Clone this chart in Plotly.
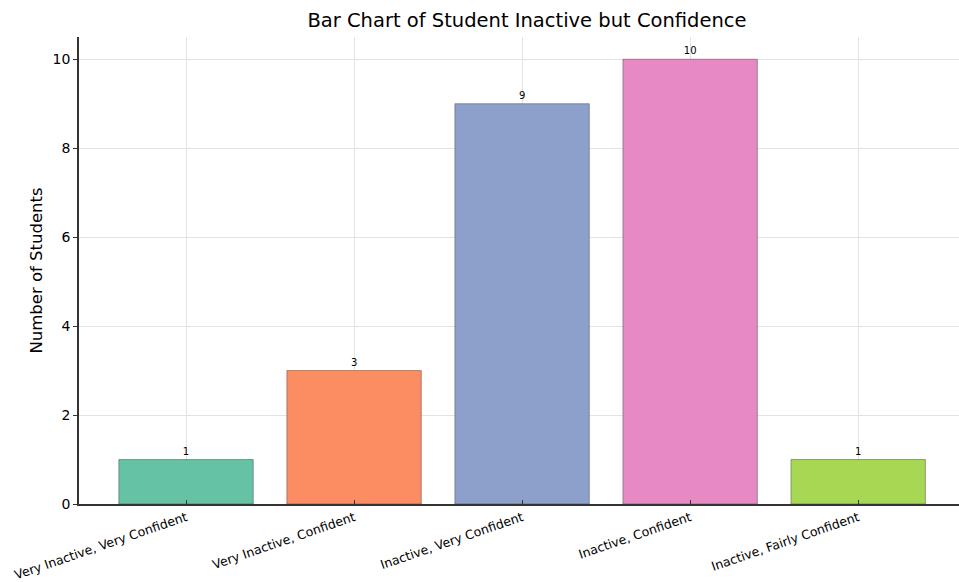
import plotly.graph_objects as go

categories = ["Very Inactive, Very Confident", "Very Inactive, Confident",
              "Inactive, Very Confident", "Inactive, Confident",
              "Inactive, Fairly Confident"]
counts = [1, 3, 9, 10, 1]
colors = ["#66c2a5", "#fc8d62", "#8da0cb", "#e78ac3", "#a6d854"]
y_ticks = [0, 2, 4, 6, 8, 10]

font = "DejaVu Sans"

fig = go.Figure(go.Bar(
    x=list(range(len(categories))), y=counts,
    width=0.8,
    marker=dict(color=colors, line=dict(color="rgba(60,60,60,0.45)", width=1)),
    text=[str(c) for c in counts], textposition="outside",
    textfont=dict(family=font, size=10, color="black"),
    cliponaxis=False,
))

fig.update_layout(
    width=959, height=582,
    margin=dict(l=79, r=0, t=37, b=78),
    plot_bgcolor="white", paper_bgcolor="white",
    showlegend=False,
    title=dict(text="Bar Chart of Student Inactive but Confidence",
               x=527/959, xanchor="center", y=1-20/582, yanchor="middle",
               font=dict(family=font, size=19.5, color="black")),
    font=dict(family=font, color="black"),
)
fig.update_xaxes(
    range=[-0.637, 4.60],
    tickmode="array", tickvals=list(range(len(categories))), ticktext=categories,
    tickangle=-19, tickfont=dict(size=12.5, color="black"),
    showgrid=True, gridcolor="#e3e3e3", gridwidth=1,
    showline=True, linecolor="#333333", linewidth=1.5,
    ticks="inside", ticklen=4, tickcolor="#333333",
    zeroline=False,
)
fig.update_yaxes(
    range=[0, 10.5],
    tickmode="array", tickvals=y_ticks, ticktext=[str(v) for v in y_ticks],
    tickfont=dict(size=14, color="black"),
    title=dict(text="Number of Students", font=dict(size=16.5, color="black"), standoff=6),
    showgrid=True, gridcolor="#e3e3e3", gridwidth=1,
    showline=True, linecolor="#333333", linewidth=1.5,
    ticks="outside", ticklen=4, tickcolor="#333333",
    zeroline=False,
)

fig.write_html("out.html")
